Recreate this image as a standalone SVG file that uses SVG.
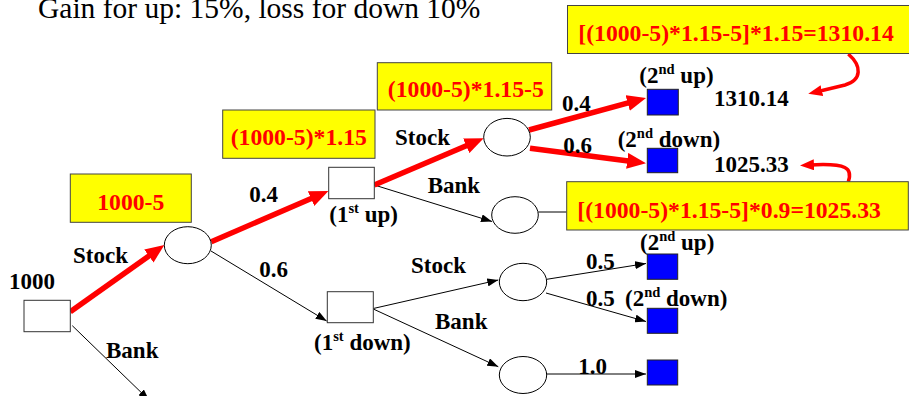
<svg xmlns="http://www.w3.org/2000/svg" width="909" height="396" viewBox="0 0 909 396">
<style>
.t{font-family:'Liberation Serif',Tinos,'DejaVu Serif',serif;font-weight:bold;font-size:23px;fill:#000}
.r{font-family:'Liberation Serif',Tinos,'DejaVu Serif',serif;font-weight:bold;font-size:23.7px;fill:#ff0000}
.title{font-family:'Liberation Serif',Tinos,'DejaVu Serif',serif;font-size:29.5px;fill:#000}
.sup{font-size:14.5px}
.box{fill:#fff;stroke:#333;stroke-width:1}
.ell{fill:#fff;stroke:#000;stroke-width:1}
.sq{fill:#0000ff;stroke:#222;stroke-width:1}
.yb{fill:#ffff00;stroke:#444;stroke-width:1}
.bl{stroke:#000;stroke-width:1;fill:none}
.red{stroke:#ff0000;stroke-width:5.5;fill:none}
.rc{stroke:#ff0000;stroke-width:3.5;fill:none}
</style>
<defs>
<marker id="ra" markerUnits="userSpaceOnUse" markerWidth="19" markerHeight="16" refX="9" refY="8" orient="auto"><path d="M0,0 L19,8 L0,16 z" fill="#ff0000"/></marker>
<marker id="rc" markerUnits="userSpaceOnUse" markerWidth="14" markerHeight="11" refX="4" refY="5.5" orient="auto"><path d="M0,0 L14,5.5 L0,11 z" fill="#ff0000"/></marker>
<marker id="ba" markerUnits="userSpaceOnUse" markerWidth="11" markerHeight="8" refX="11" refY="4" orient="auto"><path d="M0,0 L11,4 L0,8 z" fill="#000"/></marker>
</defs>
<rect width="909" height="396" fill="#fff"/>
<text class="title" x="38" y="18">Gain for up: 15%, loss for down 10%</text>

<g id="connectors">
<line class="bl" x1="72.3" y1="325.7" x2="149" y2="400" marker-end="url(#ba)"/>
<line class="bl" x1="211" y1="251" x2="326.7" y2="321" marker-end="url(#ba)"/>
<line class="bl" x1="374.3" y1="185" x2="492" y2="221.5" marker-end="url(#ba)"/>
<line class="bl" x1="373.3" y1="308.5" x2="498.3" y2="280" marker-end="url(#ba)"/>
<line class="bl" x1="373.3" y1="309" x2="498.3" y2="366.7" marker-end="url(#ba)"/>
<line class="bl" x1="546.7" y1="279.3" x2="646" y2="263.5" marker-end="url(#ba)"/>
<line class="bl" x1="546" y1="293" x2="646" y2="321.5" marker-end="url(#ba)"/>
<line class="bl" x1="546.7" y1="374" x2="646" y2="374" marker-end="url(#ba)"/>
<line class="bl" x1="538.3" y1="212" x2="566.7" y2="212"/>
<line class="red" x1="70.3" y1="311.7" x2="156.2" y2="250.8" marker-end="url(#ra)"/>
<line class="red" x1="211.3" y1="241.7" x2="319.3" y2="195" marker-end="url(#ra)"/>
<line class="red" x1="374.3" y1="185" x2="474.5" y2="142.2" marker-end="url(#ra)"/>
<line class="red" x1="529" y1="130" x2="636.4" y2="100.6" marker-end="url(#ra)"/>
<line class="red" x1="530" y1="148.3" x2="636.1" y2="162" marker-end="url(#ra)"/>
<path class="rc" d="M848.3,54 C862,66 862,80 845,85 L818,91.5" marker-end="url(#rc)"/>
<path class="rc" d="M848.3,181.7 C853,168 847,163 810,165" marker-end="url(#rc)"/>
</g>

<g id="root">
<rect class="box" x="24" y="300.3" width="46.3" height="31.4"/>
<text class="t" x="9" y="289">1000</text>
</g>
<g id="lbl-root">
<text class="t" x="73" y="263">Stock</text>
<text class="t" x="106" y="358">Bank</text>
</g>
<g id="note1">
<rect class="yb" x="70.3" y="174" width="121" height="48.3"/>
<text class="r" x="130.8" y="210" text-anchor="middle">1000-5</text>
</g>
<g id="chance1">
<ellipse class="ell" cx="187.8" cy="245.2" rx="23.5" ry="18.5"/>
<text class="t" x="249.3" y="201.7">0.4</text>
<text class="t" x="259.3" y="277.3">0.6</text>
</g>
<g id="note2">
<rect class="yb" x="222.7" y="110" width="152.3" height="48.3"/>
<text class="r" x="298.8" y="145" text-anchor="middle">(1000-5)*1.15</text>
</g>
<g id="up1">
<rect class="box" x="328.7" y="167.3" width="45.6" height="31.4"/>
<text class="t" x="329.3" y="221.7">(1<tspan class="sup" dy="-9">st</tspan><tspan dy="9"> up)</tspan></text>
<text class="t" x="395" y="145">Stock</text>
<text class="t" x="427.7" y="192.7">Bank</text>
</g>
<g id="note3">
<rect class="yb" x="377.3" y="62.7" width="174.4" height="47.3"/>
<text class="r" x="465.8" y="97.3" text-anchor="middle">(1000-5)*1.15-5</text>
</g>
<g id="down1">
<rect class="box" x="327.3" y="291.7" width="46" height="31"/>
<text class="t" x="314" y="350">(1<tspan class="sup" dy="-9">st</tspan><tspan dy="9"> down)</tspan></text>
<text class="t" x="411" y="273.3">Stock</text>
<text class="t" x="435" y="329.3">Bank</text>
</g>
<g id="chance2">
<ellipse class="ell" cx="507" cy="137.2" rx="23.3" ry="18.8"/>
<text class="t" x="562" y="111">0.4</text>
<text class="t" x="563.3" y="153.3">0.6</text>
</g>
<g id="bank-up">
<ellipse class="ell" cx="515" cy="215" rx="23.3" ry="18.3"/>
</g>
<g id="chance3">
<ellipse class="ell" cx="523" cy="282" rx="23.7" ry="18.7"/>
<text class="t" x="586" y="269.3">0.5</text>
<text class="t" x="586" y="306">0.5</text>
</g>
<g id="bank-down">
<ellipse class="ell" cx="523" cy="375" rx="23.7" ry="18.5"/>
<text class="t" x="578.3" y="374">1.0</text>
</g>
<g id="up2">
<rect class="sq" x="647.3" y="89.3" width="31" height="25.7"/>
<text class="t" x="639.3" y="82.7">(2<tspan class="sup" dy="-9">nd</tspan><tspan dy="9"> up)</tspan></text>
<text class="t" x="714" y="106">1310.14</text>
</g>
<g id="down2">
<rect class="sq" x="647.3" y="148.3" width="30.4" height="24.4"/>
<text class="t" x="617.7" y="146.7">(2<tspan class="sup" dy="-9">nd</tspan><tspan dy="9"> down)</tspan></text>
<text class="t" x="714" y="171.7">1025.33</text>
</g>
<g id="up2b">
<rect class="sq" x="647.3" y="254" width="30.4" height="25.3"/>
<text class="t" x="640" y="250">(2<tspan class="sup" dy="-9">nd</tspan><tspan dy="9"> up)</tspan></text>
</g>
<g id="down2b">
<rect class="sq" x="647.3" y="308.3" width="30.4" height="25"/>
<text class="t" x="625" y="306">(2<tspan class="sup" dy="-9">nd</tspan><tspan dy="9"> down)</tspan></text>
</g>
<g id="bank2">
<rect class="sq" x="647.3" y="360" width="30.4" height="25"/>
</g>
<g id="note4">
<rect class="yb" x="567.5" y="5.5" width="360" height="48"/>
<text class="r" x="578.3" y="40.7">[(1000-5)*1.15-5]*1.15=1310.14</text>
</g>
<g id="note5">
<rect class="yb" x="566.7" y="181.7" width="341.6" height="48.3"/>
<text class="r" x="577.3" y="218.3">[(1000-5)*1.15-5]*0.9=1025.33</text>
</g>
</svg>
